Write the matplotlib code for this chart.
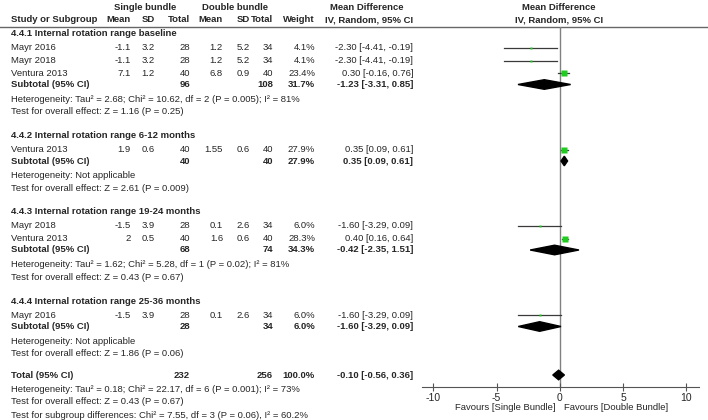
import matplotlib.pyplot as plt
from matplotlib.patches import Polygon

plt.rcParams['font.family'] = ['Liberation Sans', 'DejaVu Sans']

# Data
subgroups = ['4.4.1 Internal rotation range baseline',
             '4.4.2 Internal rotation range 6-12 months',
             '4.4.3 Internal rotation range 19-24 months',
             '4.4.4 Internal rotation range 25-36 months']

study = ['Mayr 2016', 'Mayr 2018', 'Ventura 2013', 'Ventura 2013',
         'Mayr 2018', 'Ventura 2013', 'Mayr 2016']
group = [0, 0, 0, 1, 2, 2, 3]
sb_mean = [-1.1, -1.1, 7.1, 1.9, -1.5, 2, -1.5]
sb_sd = [3.2, 3.2, 1.2, 0.6, 3.9, 0.5, 3.9]
sb_n = [28, 28, 40, 40, 28, 40, 28]
db_mean = [1.2, 1.2, 6.8, 1.55, 0.1, 1.6, 0.1]
db_sd = [5.2, 5.2, 0.9, 0.6, 2.6, 0.6, 2.6]
db_n = [34, 34, 40, 40, 34, 40, 34]
weight = [4.1, 4.1, 23.4, 27.9, 6.0, 28.3, 6.0]
md = [-2.30, -2.30, 0.30, 0.35, -1.60, 0.40, -1.60]
md_lo = [-4.41, -4.41, -0.16, 0.09, -3.29, 0.16, -3.29]
md_hi = [-0.19, -0.19, 0.76, 0.61, 0.09, 0.64, 0.09]

sub_sb_n = [96, 40, 68, 28]
sub_db_n = [108, 40, 74, 34]
sub_weight = [31.7, 27.9, 34.3, 6.0]
sub_md = [-1.23, 0.35, -0.42, -1.60]
sub_lo = [-3.31, 0.09, -2.35, -3.29]
sub_hi = [0.85, 0.61, 1.51, 0.09]
sub_het = ['Heterogeneity: Tau² = 2.68; Chi² = 10.62, df = 2 (P = 0.005); I² = 81%',
           'Heterogeneity: Not applicable',
           'Heterogeneity: Tau² = 1.62; Chi² = 5.28, df = 1 (P = 0.02); I² = 81%',
           'Heterogeneity: Not applicable']
sub_effect = ['Test for overall effect: Z = 1.16 (P = 0.25)',
              'Test for overall effect: Z = 2.61 (P = 0.009)',
              'Test for overall effect: Z = 0.43 (P = 0.67)',
              'Test for overall effect: Z = 1.86 (P = 0.06)']

total_sb_n = 232
total_db_n = 256
total_weight = 100.0
total_md = -0.10
total_lo = -0.56
total_hi = 0.36
total_notes = ['Heterogeneity: Tau² = 0.18; Chi² = 22.17, df = 6 (P = 0.001); I² = 73%',
               'Test for overall effect: Z = 0.43 (P = 0.67)',
               'Test for subgroup differences: Chi² = 7.55, df = 3 (P = 0.06), I² = 60.2%']

xticks = [-10, -5, 0, 5, 10]
favours = ['Favours [Single Bundle]', 'Favours [Double Bundle]']

# Layout (figure pixels, y downward)
W, H = 708, 420
TXT = '#262626'
GREEN = '#1fcc1f'
FS = 6.8
col = {'study': 11, 'sb_mean': 131, 'sb_sd': 155, 'sb_n': 190,
       'db_mean': 223, 'db_sd': 250, 'db_n': 273, 'w': 315, 'md': 413}


def fmt_ci(m, l, h):
    return f'{m:.2f} [{l:.2f}, {h:.2f}]'


fig = plt.figure(figsize=(W / 100, H / 100), dpi=100)
ax = fig.add_axes([0, 0, 1, 1])
ax.set_xlim(0, W)
ax.set_ylim(H, 0)
ax.axis('off')

# forest panel: x axis line at y=387, top at the header rule y=27
ax_f = fig.add_axes([422 / W, (H - 387) / H, 277 / W, 360 / H])
ax_f.set_xlim(-10.9, 11.0)
ax_f.set_ylim(387, 27)
ax_f.patch.set_alpha(0)
for s in ['top', 'left', 'right']:
    ax_f.spines[s].set_visible(False)
ax_f.spines['bottom'].set_color('#555555')
ax_f.set_yticks([])
ax_f.set_xticks(xticks)
ax_f.set_xticklabels([str(t) for t in xticks])
ax_f.tick_params(axis='x', direction='inout', length=6, color='#555555',
                 labelsize=7.5, labelcolor=TXT, pad=1)
ax_f.axvline(0, color='#808080', lw=1, zorder=1)


def put(x, y, s, ha='right', bold=False):
    ax.text(x, y, s, ha=ha, va='center', fontsize=FS, color=TXT,
            fontweight='bold' if bold else 'normal')


# header
put(145, 7, 'Single bundle', ha='center', bold=True)
put(235, 7, 'Double bundle', ha='center', bold=True)
put(367, 7, 'Mean Difference', ha='center', bold=True)
put(559, 7, 'Mean Difference', ha='center', bold=True)
put(col['study'], 20, 'Study or Subgroup', ha='left', bold=True)
for key, lab in [('sb_mean', 'Mean'), ('sb_sd', 'SD'), ('sb_n', 'Total'),
                 ('db_mean', 'Mean'), ('db_sd', 'SD'), ('db_n', 'Total'),
                 ('w', 'Weight')]:
    put(col[key], 20, lab, bold=True)
put(369, 20, 'IV, Random, 95% CI', ha='center', bold=True)
put(559, 20, 'IV, Random, 95% CI', ha='center', bold=True)
ax.plot([0, W], [27, 27], color='#666666', lw=1)


def diamond(m, l, h, y, hh=4.8):
    ax_f.add_patch(Polygon([(l, y), (m, y - hh), (h, y), (m, y + hh)],
                           closed=True, color='black', zorder=3))


y = 34
for g, title in enumerate(subgroups):
    put(col['study'], y, title, ha='left', bold=True)
    y += 14
    idx = [i for i in range(len(study)) if group[i] == g]
    for k, i in enumerate(idx):
        if k > 0:
            y += 12.5
        put(col['study'], y, study[i], ha='left')
        put(col['sb_mean'], y, f'{sb_mean[i]:g}')
        put(col['sb_sd'], y, f'{sb_sd[i]:g}')
        put(col['sb_n'], y, str(sb_n[i]))
        put(col['db_mean'], y, f'{db_mean[i]:g}')
        put(col['db_sd'], y, f'{db_sd[i]:g}')
        put(col['db_n'], y, str(db_n[i]))
        put(col['w'], y, f'{weight[i]:.1f}%')
        put(col['md'], y, fmt_ci(md[i], md_lo[i], md_hi[i]))
        ax_f.plot([md_lo[i], md_hi[i]], [y, y], color='#3a3a3a', lw=0.9, zorder=2)
        ax_f.plot(md[i], y, 's', color=GREEN, ms=0.75 * weight[i] ** 0.5,
                  mec='none', zorder=3)
    y += 11.5
    put(col['study'], y, 'Subtotal (95% CI)', ha='left', bold=True)
    put(col['sb_n'], y, str(sub_sb_n[g]), bold=True)
    put(col['db_n'], y, str(sub_db_n[g]), bold=True)
    put(col['w'], y, f'{sub_weight[g]:.1f}%', bold=True)
    put(col['md'], y, fmt_ci(sub_md[g], sub_lo[g], sub_hi[g]), bold=True)
    diamond(sub_md[g], sub_lo[g], sub_hi[g], y)
    y += 14.5
    put(col['study'], y, sub_het[g], ha='left')
    y += 13
    put(col['study'], y, sub_effect[g], ha='left')
    y += 23.5

# overall
y += -2.5
put(col['study'], y, 'Total (95% CI)', ha='left', bold=True)
put(col['sb_n'], y, str(total_sb_n), bold=True)
put(col['db_n'], y, str(total_db_n), bold=True)
put(col['w'], y, f'{total_weight:.1f}%', bold=True)
put(col['md'], y, fmt_ci(total_md, total_lo, total_hi), bold=True)
diamond(total_md, total_lo, total_hi, y)
y += 14
for note in total_notes:
    put(col['study'], y, note, ha='left')
    y += 13

ax_f.text(-0.35, 407, favours[0], ha='right', va='center', fontsize=FS, color=TXT, clip_on=False)
ax_f.text(0.35, 407, favours[1], ha='left', va='center', fontsize=FS, color=TXT, clip_on=False)

fig.savefig('out.png', dpi=100)
